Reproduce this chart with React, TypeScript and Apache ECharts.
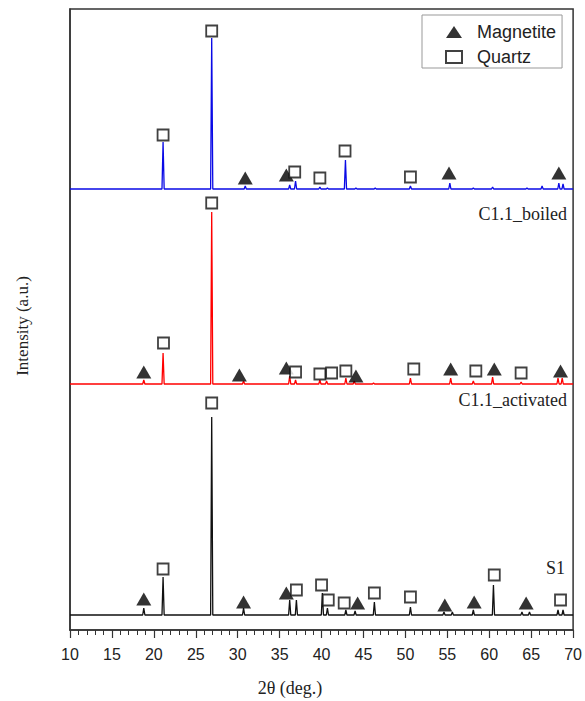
import React, { useEffect, useRef } from "react";
import * as echarts from "echarts";

// x axis (2θ, degrees)
const X_MIN = 10;
const X_MAX = 70;
const X_INTERVAL = 5;
// y axis (arbitrary units, stacked patterns)
const Y_MIN = 0;
const Y_MAX = 621;

// baselines of the three stacked patterns
const BOILED_BASE = 441;
const ACTIVATED_BASE = 246;
const S1_BASE = 15;

// peaks: [2θ, peak-top intensity]
const boiledPeaks: [number, number][] = [
  [21.1, 488], [26.9, 592], [30.9, 444], [36.2, 445], [36.9, 449], [39.8, 443],
  [40.7, 442], [42.85, 470], [44.1, 442], [46.4, 442], [50.6, 444], [55.3, 447],
  [58.1, 442], [60.4, 443], [64.5, 442], [66.3, 444], [68.3, 447], [68.8, 446],
];
const activatedPeaks: [number, number][] = [
  [18.8, 250], [21.1, 277], [26.9, 418], [30.7, 249], [36.2, 254], [36.9, 250],
  [39.8, 250], [40.6, 249], [42.9, 252], [43.9, 249], [46.2, 247], [50.6, 252],
  [55.4, 252], [58.1, 249], [60.4, 253], [63.8, 248], [68.2, 252], [68.7, 252],
];
const s1Peaks: [number, number][] = [
  [18.8, 22], [21.1, 53], [26.9, 213], [30.7, 22], [36.2, 30], [37.0, 30],
  [40.1, 37], [40.7, 22], [42.9, 20], [44.0, 19], [46.3, 28], [50.6, 23],
  [54.6, 18], [55.6, 18], [58.1, 20], [60.5, 45], [63.9, 18], [64.8, 18],
  [68.2, 20], [68.8, 20],
];

// phase markers: [2θ, marker height]
const magnetiteMarks: [number, number][] = [
  // C1.1_boiled
  [30.9, 452], [35.8, 455], [55.2, 457], [68.3, 457],
  // C1.1_activated
  [18.8, 258], [30.2, 255], [35.8, 262], [44.1, 254], [55.4, 261], [60.6, 261], [68.5, 259],
  // S1
  [18.8, 31], [30.7, 28], [35.8, 37], [44.3, 27], [54.7, 25], [58.2, 28], [64.4, 27],
];
const quartzMarks: [number, number][] = [
  // C1.1_boiled
  [21.1, 495], [26.9, 599], [36.8, 458], [39.8, 452], [42.8, 479], [50.6, 453],
  // C1.1_activated
  [21.15, 287], [26.9, 427], [36.9, 258], [39.8, 256], [41.2, 257], [42.9, 259],
  [51.0, 261], [58.4, 259], [63.8, 257],
  // S1
  [21.1, 61], [26.9, 227], [37.0, 40], [40.0, 45], [40.8, 30], [42.7, 27],
  [46.3, 37], [50.6, 33], [60.6, 55], [68.5, 30],
];

const SAMPLE_NAMES = ["C1.1_boiled", "C1.1_activated", "S1"];
const X_TITLE = "2θ (deg.)";
const Y_TITLE = "Intensity (a.u.)";
const PEAK_HALF_WIDTH = 0.13;

function buildPattern(base: number, peaks: [number, number][]): [number, number][] {
  const pts: [number, number][] = [[X_MIN, base]];
  peaks.forEach(([p, top]) => {
    pts.push([p - PEAK_HALF_WIDTH, base]);
    pts.push([p, top]);
    pts.push([p + PEAK_HALF_WIDTH, base]);
  });
  pts.push([X_MAX, base]);
  return pts;
}

export default function App() {
  const ref = useRef<HTMLDivElement>(null);
  useEffect(() => {
    if (!ref.current) return;
    const chart = echarts.init(ref.current, null, { renderer: "svg" });
    const serif = "'Liberation Serif', 'Times New Roman', serif";
    const sans = "'Liberation Sans', Arial, sans-serif";
    const lineSeries = (name: string, color: string, data: [number, number][]) => ({
      name,
      type: "line",
      data,
      showSymbol: false,
      symbol: "none",
      lineStyle: { color, width: 1.3 },
      z: 2,
    });
    chart.setOption({
      animation: false,
      grid: {
        left: 70, top: 9, right: 10, bottom: 71,
        show: true, borderColor: "#333", borderWidth: 1.5,
      },
      legend: {
        data: ["Magnetite", "Quartz"],
        orient: "vertical",
        left: 422,
        top: 15,
        padding: [8, 6, 2, 23],
        itemGap: 7,
        itemWidth: 16,
        itemHeight: 12,
        borderColor: "#999",
        borderWidth: 1,
        backgroundColor: "#fff",
        formatter: "{t|{name}}",
        textStyle: {
          fontFamily: sans, fontSize: 18, lineHeight: 17, color: "#222",
          rich: { t: { fontFamily: sans, fontSize: 18, lineHeight: 17, color: "#222", padding: [0, 0, 0, 10] } },
        },
      },
      xAxis: {
        type: "value",
        min: X_MIN,
        max: X_MAX,
        interval: X_INTERVAL,
        axisLine: { show: true, lineStyle: { color: "#333", width: 1.5 } },
        axisTick: { show: true, length: 8, lineStyle: { color: "#333", width: 1.2 } },
        minorTick: { show: true, splitNumber: 5, length: 5, lineStyle: { color: "#333", width: 1 } },
        axisLabel: { fontFamily: sans, fontSize: 16, color: "#222", margin: 16 },
        splitLine: { show: false },
      },
      yAxis: {
        type: "value",
        min: Y_MIN,
        max: Y_MAX,
        axisLine: { show: true, lineStyle: { color: "#333", width: 1.5 } },
        axisTick: { show: false },
        axisLabel: { show: false },
        splitLine: { show: false },
      },
      graphic: [
        {
          type: "text", x: 290, y: 688,
          style: { text: X_TITLE, font: `18px ${serif}`, fill: "#222", align: "center", verticalAlign: "middle" },
        },
        {
          type: "text", x: 22, y: 326, rotation: Math.PI / 2,
          style: { text: Y_TITLE, font: `17px ${serif}`, fill: "#222", align: "center", verticalAlign: "middle" },
        },
        { type: "text", right: 18, top: 205, style: { text: SAMPLE_NAMES[0], font: `18px ${serif}`, fill: "#222" } },
        { type: "text", right: 18, top: 391, style: { text: SAMPLE_NAMES[1], font: `18px ${serif}`, fill: "#222" } },
        { type: "text", right: 20, top: 559, style: { text: SAMPLE_NAMES[2], font: `18px ${serif}`, fill: "#222" } },
      ],
      series: [
        lineSeries(SAMPLE_NAMES[0], "#0a0ae6", buildPattern(BOILED_BASE, boiledPeaks)),
        lineSeries(SAMPLE_NAMES[1], "#ff0000", buildPattern(ACTIVATED_BASE, activatedPeaks)),
        lineSeries(SAMPLE_NAMES[2], "#111", buildPattern(S1_BASE, s1Peaks)),
        {
          name: "Magnetite",
          type: "scatter",
          data: magnetiteMarks,
          symbol: "triangle",
          symbolSize: [15, 13],
          itemStyle: { color: "#000" },
          z: 3,
        },
        {
          name: "Quartz",
          type: "scatter",
          data: quartzMarks,
          symbol: "rect",
          symbolSize: 11,
          itemStyle: { color: "#fff", borderColor: "#111", borderWidth: 1.8 },
          z: 3,
        },
      ],
    });
    return () => chart.dispose();
  }, []);
  return (
    <div
      ref={ref}
      style={{ position: "absolute", left: 0, top: 0, width: 585, height: 701, background: "#fff" }}
    />
  );
}
